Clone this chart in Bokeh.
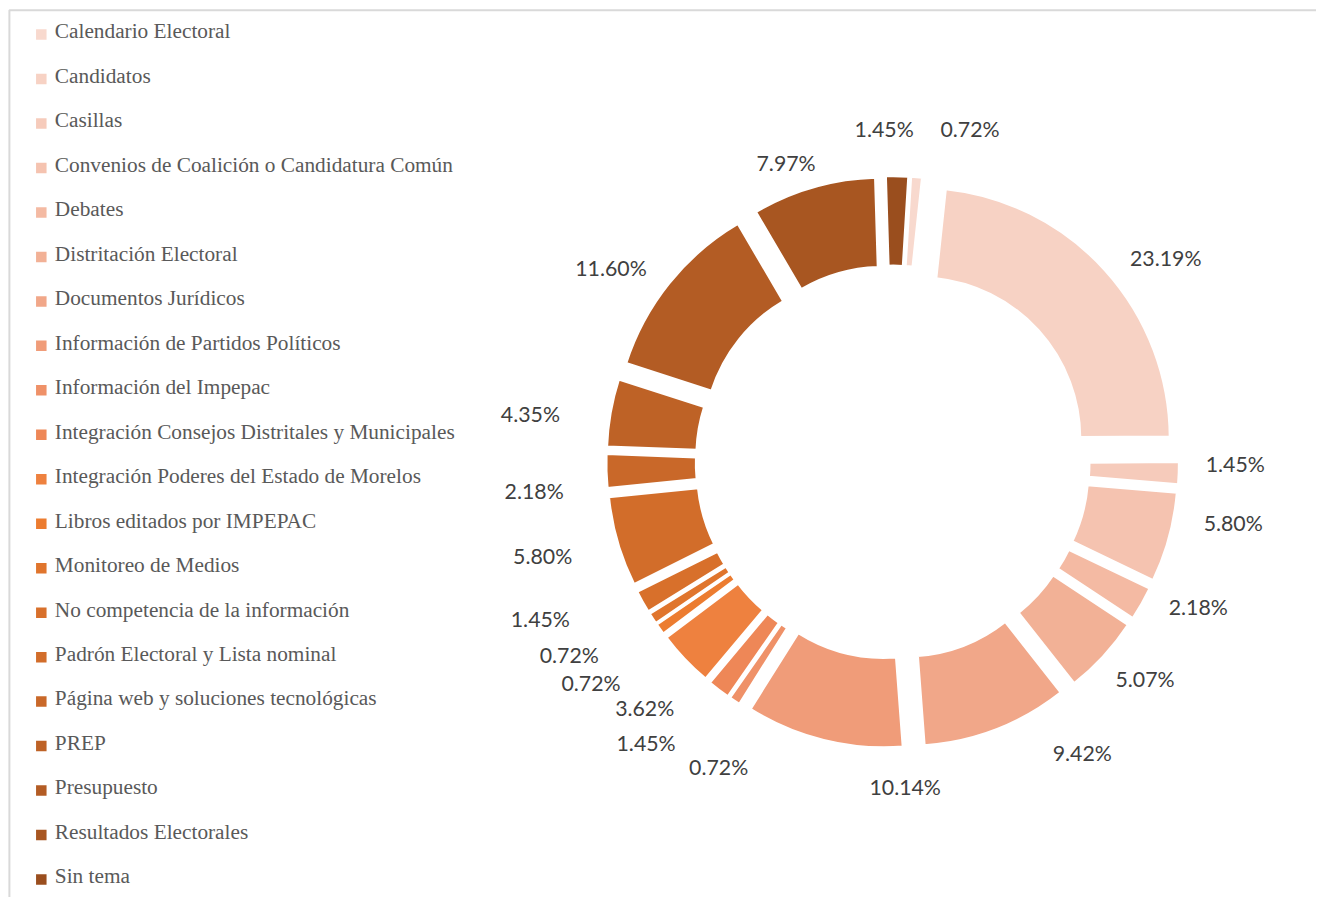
import numpy as np
from bokeh.plotting import figure
from bokeh.models import ColumnDataSource, Range1d
from bokeh.core.properties import value
from bokeh.embed import file_html
from bokeh.resources import INLINE

# ---------------- data ----------------
categories = [
    "Calendario Electoral",
    "Candidatos",
    "Casillas",
    "Convenios de Coalición o Candidatura Común",
    "Debates",
    "Distritación Electoral",
    "Documentos Jurídicos",
    "Información de Partidos Políticos",
    "Información del Impepac",
    "Integración Consejos Distritales y Municipales",
    "Integración Poderes del Estado de Morelos",
    "Libros editados por IMPEPAC",
    "Monitoreo de Medios",
    "No competencia de la información",
    "Padrón Electoral y Lista nominal",
    "Página web y soluciones tecnológicas",
    "PREP",
    "Presupuesto",
    "Resultados Electorales",
    "Sin tema",
]
percent = [0.72, 23.19, 1.45, 5.80, 2.18, 5.07, 9.42, 10.14, 0.72, 1.45,
           3.62, 0.72, 0.72, 1.45, 5.80, 2.18, 4.35, 11.60, 7.97, 1.45]

# ---------------- styles ----------------
colors = ["#F8D9CE", "#F7D2C4", "#F6CBBB", "#F5C3B0", "#F4BAA3",
          "#F2B196", "#F1A789", "#F09C79", "#EF9168", "#EE8757",
          "#EE813F", "#EC7C30", "#E0752D", "#D8702B", "#D26D2A",
          "#C96829", "#BE6226", "#B35C24", "#A85621", "#9A4E1E"]

# label nudges (x right / y down) from the default label position
nudge_x = [49, 17, -3, 7, 5, -2, 65, 97, 17, -37, 3, -21, -34, -51, -18, -13, -22, -12, -11, -14]
nudge_y = [10, 27, -12, -30, -26, -17, -30, -9, 18, 8, 9, 21, 5, -11, -2, 19, 12, 21, 32, 11]

# layout space (1332 x 913 units) drawn on a figure that fits the window
SW, SH = 1332, 913
W, H = 1316, 897


def Y(v):
    return SH - v


cx, cy = 903, Y(470)
R_OUT, R_IN = 254, 163
EXPLODE = 36
LABEL_R = 350
A0 = 3.5  # first slice angle (deg, clockwise from top)
FS = "21.3px"

p = figure(width=W, height=H, x_range=Range1d(0, SW), y_range=Range1d(0, SH),
           output_backend="svg", toolbar_location=None,
           x_axis_type=None, y_axis_type=None, min_border=0)
p.outline_line_color = None
p.background_fill_color = "white"
p.border_fill_color = "white"

# chart area border (top and left edges visible)
p.line(x=[9, 9, SW + 20], y=[-20, Y(10), Y(10)], line_color="#D9D9D9", line_width=2)

vals = np.array(percent, dtype=float)
cum = np.concatenate([[0.0], np.cumsum(vals)]) / vals.sum() * 360.0
t1 = np.radians(cum[:-1] + A0)
t2 = np.radians(cum[1:] + A0)
tm = (t1 + t2) / 2

src = ColumnDataSource(dict(
    x=cx + EXPLODE * np.sin(tm),
    y=cy + EXPLODE * np.cos(tm),
    start=np.pi / 2 - t2,
    end=np.pi / 2 - t1,
    color=colors,
    cat=categories,
))
p.annular_wedge(x="x", y="y", inner_radius=R_IN, outer_radius=R_OUT,
                start_angle="start", end_angle="end", direction="anticlock",
                fill_color="color", line_color="white", line_width=2.5, source=src)

# data labels
lab = ColumnDataSource(dict(
    x=cx + LABEL_R * np.sin(tm) + np.array(nudge_x),
    y=cy + LABEL_R * np.cos(tm) - np.array(nudge_y),
    text=[f"{v:.2f}%" for v in percent],
))
p.text(x="x", y="y", text="text", source=lab, text_align="center",
       text_baseline="middle", text_font=value("Lato"), text_font_size=FS,
       text_color="#404040")

# legend
ROW0_MID, ROW_STEP = 31.5, 45.26
idx = np.arange(len(categories))
leg = ColumnDataSource(dict(
    mx=np.full(len(categories), 41.3),
    my=Y(34.7 + idx * ROW_STEP),
    tx=np.full(len(categories), 55.0),
    ty=Y(ROW0_MID + idx * ROW_STEP),
    text=categories,
    color=colors,
))
p.scatter(x="mx", y="my", marker="square", size=10.5, fill_color="color",
          line_color=None, source=leg)
p.text(x="tx", y="ty", text="text", source=leg, text_align="left",
       text_baseline="middle", text_font=value("Liberation Serif"),
       text_font_size=FS, text_color="#595959")

open("out.html", "w").write(file_html(p, INLINE))
